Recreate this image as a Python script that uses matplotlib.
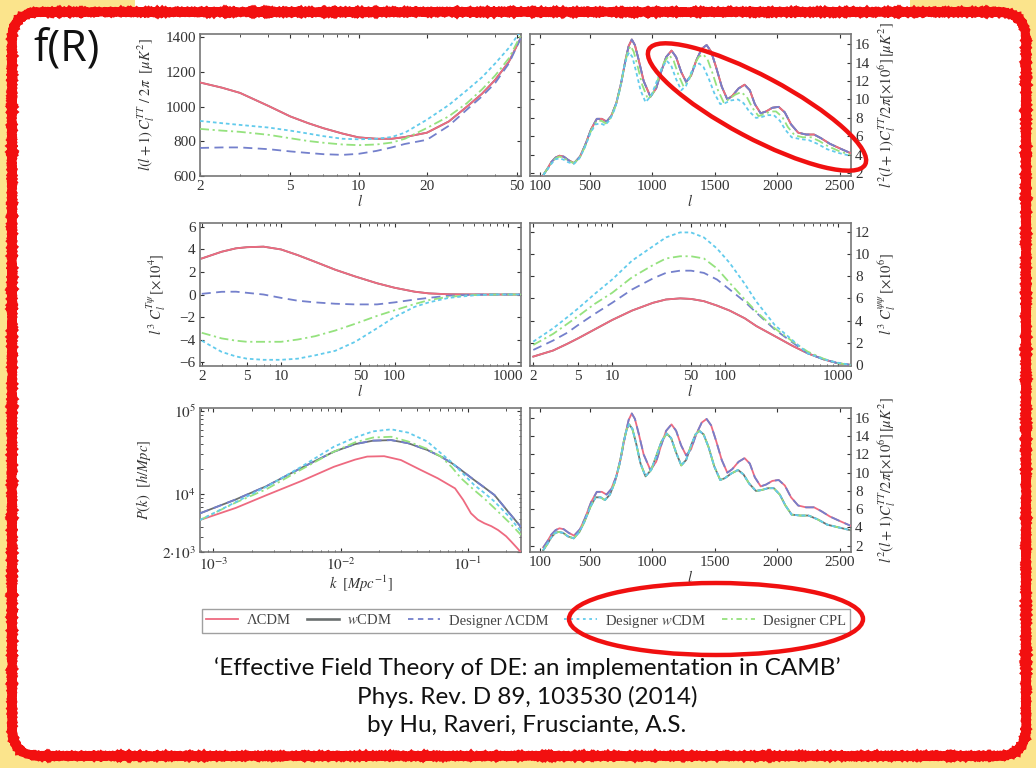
import numpy as np
import matplotlib
matplotlib.use("Agg")
import matplotlib.pyplot as plt
from matplotlib.patches import FancyBboxPatch, Ellipse, Rectangle
from matplotlib.lines import Line2D
from matplotlib.ticker import FixedLocator, NullFormatter

plt.rcParams['font.family'] = ['Liberation Serif', 'DejaVu Serif']
plt.rcParams['mathtext.fontset'] = 'stix'

# ---- data ----
names = ['ΛCDM', '$w$CDM', 'Designer ΛCDM', 'Designer $w$CDM', 'Designer CPL']

# top left: low-l TT
l_tl = [2, 2.5, 3, 4, 5, 6, 7, 8.5, 10, 12, 14, 16, 20, 25, 30, 35, 40, 46, 52]
lcdm_tl = [1140, 1110, 1080, 1005, 944, 905, 876, 845, 823, 815, 815, 825, 850, 915, 1000,
           1075, 1155, 1260, 1400]
wcdm_tl = lcdm_tl
dlcdm_tl = [762, 765, 765, 755, 742, 733, 726, 722, 728, 745, 765, 785, 809, 890, 983,
            1060, 1137, 1250, 1400]
dwcdm_tl = [918, 905, 895, 880, 862, 845, 830, 815, 812, 815, 825, 850, 925, 1010, 1095,
            1170, 1250, 1340, 1440]
dcpl_tl = [872, 862, 855, 838, 818, 802, 792, 782, 778, 782, 793, 815, 877, 945, 1020,
           1100, 1180, 1280, 1415]

# top right / bottom right: high-l TT
l_hi_a = [126, 160, 190, 225, 256, 290, 330, 373, 420, 460, 510, 555, 595, 633, 670, 711,
          750, 785, 810, 835, 860, 890, 930, 984, 1030, 1070, 1110, 1153, 1190, 1230, 1270,
          1310, 1350, 1395, 1434, 1470, 1510, 1555, 1600, 1640, 1690, 1738, 1780, 1820,
          1867, 1910, 1960, 2011, 2060, 2110, 2167, 2230, 2294, 2350, 2420, 2500, 2583]
lcdm_tr = [1.8, 2.5, 3.2, 3.7, 3.9, 3.8, 3.4, 3.1, 3.8, 5.0, 6.8, 7.9, 7.9, 7.6, 8.2, 9.6,
           11.8, 14.3, 15.8, 16.5, 15.9, 14.3, 12.0, 10.3, 11.2, 13.0, 14.6, 15.3, 14.6, 13.0, 11.9,
           12.6, 14.2, 15.5, 15.9, 15.2, 13.5, 11.4, 10.0, 10.4, 11.2, 11.6, 11.0, 9.5,
           8.5, 8.7, 9.1, 9.2, 8.6, 7.3, 6.4, 6.2, 6.2, 5.8, 5.2, 4.7, 4.2]
wcdm_tr = lcdm_tr
dlcdm_tr = lcdm_tr
l_hi_b = [126, 160, 190, 222, 250, 285, 325, 370, 415, 455, 505, 545, 585, 620, 660, 700,
          738, 770, 795, 814, 840, 870, 905, 945, 990, 1030, 1072, 1114, 1150, 1190, 1231,
          1270, 1310, 1345, 1375, 1410, 1450, 1495, 1543, 1580, 1630, 1686, 1730, 1775,
          1829, 1875, 1925, 1972, 2020, 2065, 2115, 2185, 2250, 2320, 2400, 2490, 2583]
dwcdm_tr = [1.8, 2.4, 3.0, 3.5, 3.6, 3.5, 3.2, 3.0, 3.6, 4.7, 6.4, 7.3, 7.4, 7.2, 7.8, 9.0,
            11.0, 13.3, 14.6, 15.1, 14.6, 13.0, 11.0, 9.7, 10.4, 11.8, 13.3, 14.2, 13.7, 12.2, 11.0,
            11.5, 12.9, 13.7, 13.9, 13.5, 12.3, 10.7, 9.5, 9.6, 9.9, 10.0, 9.6, 8.7,
            8.0, 8.1, 8.3, 8.3, 7.7, 6.7, 5.9, 5.7, 5.6, 5.2, 4.6, 4.2, 3.9]
l_hi_c = [126, 160, 190, 224, 253, 288, 328, 372, 418, 458, 508, 550, 590, 627, 665, 705,
          745, 778, 803, 825, 850, 880, 918, 965, 1010, 1050, 1092, 1135, 1170, 1210, 1250,
          1290, 1330, 1370, 1405, 1440, 1480, 1525, 1570, 1610, 1660, 1710, 1755, 1800,
          1850, 1895, 1945, 1990, 2040, 2085, 2140, 2205, 2270, 2335, 2410, 2495, 2583]
dcpl_tr = [1.8, 2.5, 3.1, 3.6, 3.8, 3.7, 3.3, 3.1, 3.7, 4.8, 6.6, 7.6, 7.7, 7.4, 8.0, 9.3,
           11.4, 13.8, 15.2, 15.8, 15.2, 13.7, 11.6, 10.0, 10.8, 12.4, 14.0, 14.8, 14.2, 12.6, 11.4,
           12.0, 13.6, 14.6, 14.9, 14.4, 12.9, 11.0, 9.7, 10.0, 10.5, 10.8, 10.3, 9.1,
           8.2, 8.4, 8.7, 8.7, 8.1, 7.0, 6.1, 5.9, 5.9, 5.5, 4.9, 4.4, 4.0]

lcdm_br = lcdm_tr
dlcdm_br = lcdm_tr
wcdm_br = [1.5, 2.2, 2.9, 3.4, 3.5, 3.4, 3.0, 2.8, 3.5, 4.6, 6.3, 7.3, 7.3, 7.0, 7.6, 9.0,
           11.0, 13.4, 14.8, 15.3, 14.8, 13.2, 11.0, 9.6, 10.3, 11.8, 13.4, 14.3, 13.8, 12.2, 10.8,
           11.4, 13.0, 14.2, 14.6, 14.2, 12.8, 10.7, 9.2, 9.4, 9.9, 10.3, 9.8, 8.8,
           8.0, 8.1, 8.3, 8.3, 7.6, 6.4, 5.4, 5.3, 5.3, 4.9, 4.3, 4.0, 3.7]
dwcdm_br = wcdm_br
dcpl_br = wcdm_br

# middle left: T-psi cross spectrum
l_ml = [2, 3, 4, 5, 7, 10, 14, 20, 30, 45, 70, 100, 150, 200, 300, 500, 800, 1300]
lcdm_ml = [3.2, 3.8, 4.1, 4.2, 4.25, 4.0, 3.5, 2.9, 2.2, 1.6, 1.0, 0.6, 0.25, 0.1, 0.02, 0, 0, 0]
wcdm_ml = lcdm_ml
dlcdm_ml = [0.06, 0.24, 0.25, 0.15, 0.0, -0.3, -0.55, -0.7, -0.82, -0.88, -0.88, -0.7, -0.45,
            -0.3, -0.1, -0.02, 0, 0]
dwcdm_ml = [-4.1, -5.1, -5.5, -5.7, -5.8, -5.8, -5.7, -5.4, -5.0, -4.2, -3.0, -2.0, -1.1,
            -0.7, -0.3, -0.07, 0, 0]
dcpl_ml = [-3.4, -3.9, -4.1, -4.2, -4.2, -4.2, -4.0, -3.7, -3.2, -2.6, -1.9, -1.4, -0.85,
           -0.5, -0.2, -0.05, 0, 0]

# middle right: psi-psi spectrum
l_mr = [2, 3, 4, 5, 7, 10, 15, 23, 30, 40, 50, 65, 85, 110, 150, 190, 276, 400, 540, 750, 1000, 1300]
lcdm_mr = [0.75, 1.3, 1.9, 2.4, 3.2, 4.05, 4.9, 5.6, 5.9, 6.0, 5.95, 5.75, 5.35, 4.9, 4.2, 3.5,
           2.6, 1.7, 1.05, 0.5, 0.15, 0.0]
wcdm_mr = lcdm_mr
dlcdm_mr = [1.35, 2.2, 2.9, 3.6, 4.6, 5.6, 6.8, 7.8, 8.3, 8.5, 8.5, 8.3, 7.7, 6.8, 5.7, 4.7,
            3.2, 2.0, 1.05, 0.5, 0.15, 0.0]
dwcdm_mr = [2.1, 3.3, 4.3, 5.1, 6.4, 7.7, 9.4, 10.7, 11.5, 11.95, 11.95, 11.5, 10.5, 9.2, 7.3,
            5.7, 3.6, 2.2, 1.05, 0.5, 0.2, 0.0]
dcpl_mr = [1.8, 2.8, 3.7, 4.4, 5.5, 6.5, 7.9, 9.0, 9.6, 9.8, 9.8, 9.6, 8.7, 7.4, 5.9, 4.8,
           3.3, 2.1, 1.2, 0.55, 0.15, 0.0]

# bottom left: matter power spectrum
k_a = [7.85e-4, 1.5e-3, 2.63e-3, 5e-3, 8.85e-3, 1.3e-2, 1.62e-2, 2.2e-2, 2.98e-2, 4.27e-2,
       5.8e-2, 7.94e-2, 0.092, 0.106, 0.12, 0.135, 0.153, 0.173, 0.2, 0.22, 0.24, 0.262]
lcdm_pk = [4860, 6800, 9730, 14500, 21300, 26000, 28300, 28600, 25700, 19500,
           15500, 11700, 8500, 5850, 4900, 4440, 4100, 3680, 3100, 2660, 2300, 1980]
k_b = [7.85e-4, 1.5e-3, 2.63e-3, 4.83e-3, 8.85e-3, 1.3e-2, 1.8e-2, 2.5e-2, 3.4e-2, 4.8e-2,
       6.17e-2, 7.5e-2, 8.85e-2, 0.112, 0.135, 0.162, 0.21, 0.262]
dlcdm_pk = [5850, 8600, 12500, 20400, 32400, 40000, 44000, 44700, 41000, 34000,
            28200, 23500, 19500, 14800, 12000, 9730, 6000, 4000]
wcdm_pk = dlcdm_pk
dcpl_pk = [4860, 7900, 11500, 19500, 32400, 42000, 48000, 49000, 43000, 35000,
           28200, 21000, 15500, 11200, 8800, 6760, 4600, 3210]
dwcdm_pk = [4860, 8000, 12300, 21000, 37200, 48000, 57000, 60300, 55000, 43000,
            30900, 24000, 18600, 12900, 10300, 8130, 5400, 3520]

# ---- styles ----
c_red = '#ee6a80'
c_gray = '#6b7070'
c_blue = '#7480cc'
c_cyan = '#62cbec'
c_green = '#95e27e'
lw = 1.3

fig = plt.figure(figsize=(10.36, 7.68), dpi=100)
fig.patch.set_facecolor('#fbe48c')

# slide background
bg = fig.add_axes([0, 0, 1, 1], zorder=-5)
bg.set_xlim(0, 1036)
bg.set_ylim(768, 0)
bg.axis('off')
bg.add_patch(Rectangle((135, 0), 775, 12, facecolor='white', edgecolor='none'))
box = FancyBboxPatch((12, 12), 1014, 744, boxstyle='round,pad=0,rounding_size=28',
                     facecolor='white', edgecolor='#f21010', linewidth=6.5)
box.set_sketch_params(0.6, 3, 2)
bg.add_patch(box)


def series(ax, x1, y1, x2, y2, x3, y3, x4, y4, x5, y5):
    ax.plot(x2, y2, color=c_gray, lw=lw, zorder=2)
    ax.plot(x1, y1, color=c_red, lw=lw, zorder=3)
    ax.plot(x3, y3, color=c_blue, lw=lw, dashes=(5, 3), zorder=4)
    ax.plot(x5, y5, color=c_green, lw=lw, dashes=(5, 2, 1.2, 2), zorder=5)
    ax.plot(x4, y4, color=c_cyan, lw=lw, dashes=(2, 1.6), zorder=6)


def style(ax, right=False):
    for s in ax.spines.values():
        s.set_color('#777777')
        s.set_linewidth(1.2)
    ax.tick_params(which='both', direction='in', top=True, right=True,
                   labelsize=11, colors='#333333', pad=3)
    ax.tick_params(which='major', length=3)
    ax.tick_params(which='minor', length=1.8)
    if right:
        ax.yaxis.tick_right()
        ax.yaxis.set_label_position('right')
        ax.tick_params(which='both', left=True, right=True, labelleft=False, labelright=True)


lx0, rx0, w = 200 / 1036, 530 / 1036, 321 / 1036
rows = [(34, 176), (223, 366), (408, 552)]


def make_ax(col, row):
    top, bot = rows[row]
    x0 = lx0 if col == 0 else rx0
    return fig.add_axes([x0, 1 - bot / 768, w, (bot - top) / 768])


lbl = dict(fontsize=10.5, color='#333333')

# top left
ax = make_ax(0, 0)
series(ax, l_tl, lcdm_tl, l_tl, wcdm_tl, l_tl, dlcdm_tl, l_tl, dwcdm_tl, l_tl, dcpl_tl)
ax.set_xscale('log')
ax.set_xlim(2, 52)
ax.set_ylim(600, 1420)
ax.xaxis.set_major_locator(FixedLocator([2, 5, 10, 20, 50]))
ax.set_xticklabels(['2', '5', '10', '20', '50'])
ax.xaxis.set_minor_formatter(NullFormatter())
ax.set_yticks([600, 800, 1000, 1200, 1400])
ax.set_xlabel('$l$', labelpad=0, **lbl)
ax.set_ylabel(r'$l(l+1)\,C_l^{TT}\ /\ 2\pi\ \ [\mu K^2]$', labelpad=6, **lbl)
style(ax)

# top right
ax = make_ax(1, 0)
series(ax, l_hi_a, lcdm_tr, l_hi_a, wcdm_tr, l_hi_a, dlcdm_tr, l_hi_b, dwcdm_tr, l_hi_c, dcpl_tr)
ax.set_xlim(20, 2590)
ax.set_ylim(1.7, 17.1)
ax.set_xticks([100, 500, 1000, 1500, 2000, 2500])
ax.set_yticks([2, 4, 6, 8, 10, 12, 14, 16])
ax.set_xlabel('$l$', labelpad=0, **lbl)
ax.set_ylabel(r'$l^2(l+1)C_l^{TT}/2\pi[\times10^6]\,[\mu K^2]$', labelpad=4, **lbl)
style(ax, right=True)

# middle left
ax = make_ax(0, 1)
series(ax, l_ml, lcdm_ml, l_ml, wcdm_ml, l_ml, dlcdm_ml, l_ml, dwcdm_ml, l_ml, dcpl_ml)
ax.set_xscale('log')
ax.set_xlim(1.93, 1300)
ax.set_ylim(-6.35, 6.35)
ax.xaxis.set_major_locator(FixedLocator([2, 5, 10, 50, 100, 1000]))
ax.set_xticklabels(['2', '5', '10', '50', '100', '1000'])
ax.xaxis.set_minor_formatter(NullFormatter())
ax.set_yticks([-6, -4, -2, 0, 2, 4, 6])
ax.set_yticklabels(['−6', '−4', '−2', '0', '2', '4', '6'])
ax.set_xlabel('$l$', labelpad=0, **lbl)
ax.set_ylabel(r'$l^3\ C_l^{T\psi}\,[\times10^4]$', labelpad=8, **lbl)
style(ax)

# middle right
ax = make_ax(1, 1)
series(ax, l_mr, lcdm_mr, l_mr, wcdm_mr, l_mr, dlcdm_mr, l_mr, dwcdm_mr, l_mr, dcpl_mr)
ax.set_xscale('log')
ax.set_xlim(1.87, 1310)
ax.set_ylim(-0.1, 12.8)
ax.xaxis.set_major_locator(FixedLocator([2, 5, 10, 50, 100, 1000]))
ax.set_xticklabels(['2', '5', '10', '50', '100', '1000'])
ax.xaxis.set_minor_formatter(NullFormatter())
ax.set_yticks([0, 2, 4, 6, 8, 10, 12])
ax.set_xlabel('$l$', labelpad=0, **lbl)
ax.set_ylabel(r'$l^3\ C_l^{\psi\psi}\,[\times10^6]$', labelpad=4, **lbl)
style(ax, right=True)

# bottom left
ax = make_ax(0, 2)
series(ax, k_a, lcdm_pk, k_b, wcdm_pk, k_b, dlcdm_pk, k_b, dwcdm_pk, k_b, dcpl_pk)
ax.set_xscale('log')
ax.set_yscale('log')
ax.set_xlim(7.85e-4, 0.262)
ax.set_ylim(2000, 1.09e5)
ax.set_yticks([2000, 1e4, 1e5])
ax.set_yticklabels([r'$2{\cdot}10^3$', r'$10^4$', r'$10^5$'])
ax.yaxis.set_minor_formatter(NullFormatter())
ax.set_xticks([1e-3, 1e-2, 1e-1])
ax.set_xticklabels([r'$10^{-3}$', r'$10^{-2}$', r'$10^{-1}$'])
ax.xaxis.set_minor_formatter(NullFormatter())
ax.set_xlabel(r'$k\ \ [Mpc^{-1}]$', labelpad=0, **lbl)
ax.set_ylabel(r'$P(k)\ \ [h/Mpc]$', labelpad=6, **lbl)
style(ax)

# bottom right
ax = make_ax(1, 2)
series(ax, l_hi_a, lcdm_br, l_hi_b, wcdm_br, l_hi_a, dlcdm_br, l_hi_b, dwcdm_br, l_hi_b, dcpl_br)
ax.set_xlim(20, 2590)
ax.set_ylim(1.3, 17.1)
ax.set_xticks([100, 500, 1000, 1500, 2000, 2500])
ax.set_yticks([2, 4, 6, 8, 10, 12, 14, 16])
ax.set_xlabel('$l$', labelpad=0, **lbl)
ax.set_ylabel(r'$l^2(l+1)C_l^{TT}/2\pi[\times10^6]\,[\mu K^2]$', labelpad=4, **lbl)
style(ax, right=True)

# legend
handles = [Line2D([], [], color=c_red, lw=lw),
           Line2D([], [], color=c_gray, lw=lw + 0.6),
           Line2D([], [], color=c_blue, lw=lw, dashes=(3, 2.5)),
           Line2D([], [], color=c_cyan, lw=lw, dashes=(1.5, 2)),
           Line2D([], [], color=c_green, lw=lw, dashes=(3, 2, 1, 2))]
leg = fig.legend(handles, names, loc='center', bbox_to_anchor=(526 / 1036, 1 - 621 / 768),
                 ncol=5, fontsize=10.5, frameon=True, fancybox=False, edgecolor='#888888',
                 handlelength=2.2, handletextpad=0.6, columnspacing=1.1,
                 borderpad=0.25, labelcolor='#444444')
leg.get_frame().set_linewidth(1.0)

# overlay text and ellipses
fg = fig.add_axes([0, 0, 1, 1], zorder=20)
fg.set_xlim(0, 1036)
fg.set_ylim(768, 0)
fg.axis('off')
fg.patch.set_alpha(0)
fg.text(67, 50, 'f(R)', fontsize=31, family='Open Sans', ha='center', va='center', color='#111111')
fg.add_patch(Ellipse((757, 107), 245, 62, angle=28, fill=False, edgecolor='#f01010', lw=3.2))
fg.add_patch(Ellipse((716, 619), 294, 72, fill=False, edgecolor='#f01010', lw=3.2))

tfont = dict(family=['Lato', 'DejaVu Sans'], ha='center', va='center', color='#111111')
fg.text(527, 668, '\u2018Effective Field Theory of DE: an implementation in CAMB\u2019', fontsize=17.5, **tfont)
fg.text(527, 697, 'Phys. Rev. D 89, 103530 (2014)', fontsize=17.5, **tfont)
fg.text(527, 726, 'by Hu, Raveri, Frusciante, A.S.', fontsize=17.5, **tfont)

fig.savefig('out.png', dpi=100, facecolor=fig.get_facecolor())
